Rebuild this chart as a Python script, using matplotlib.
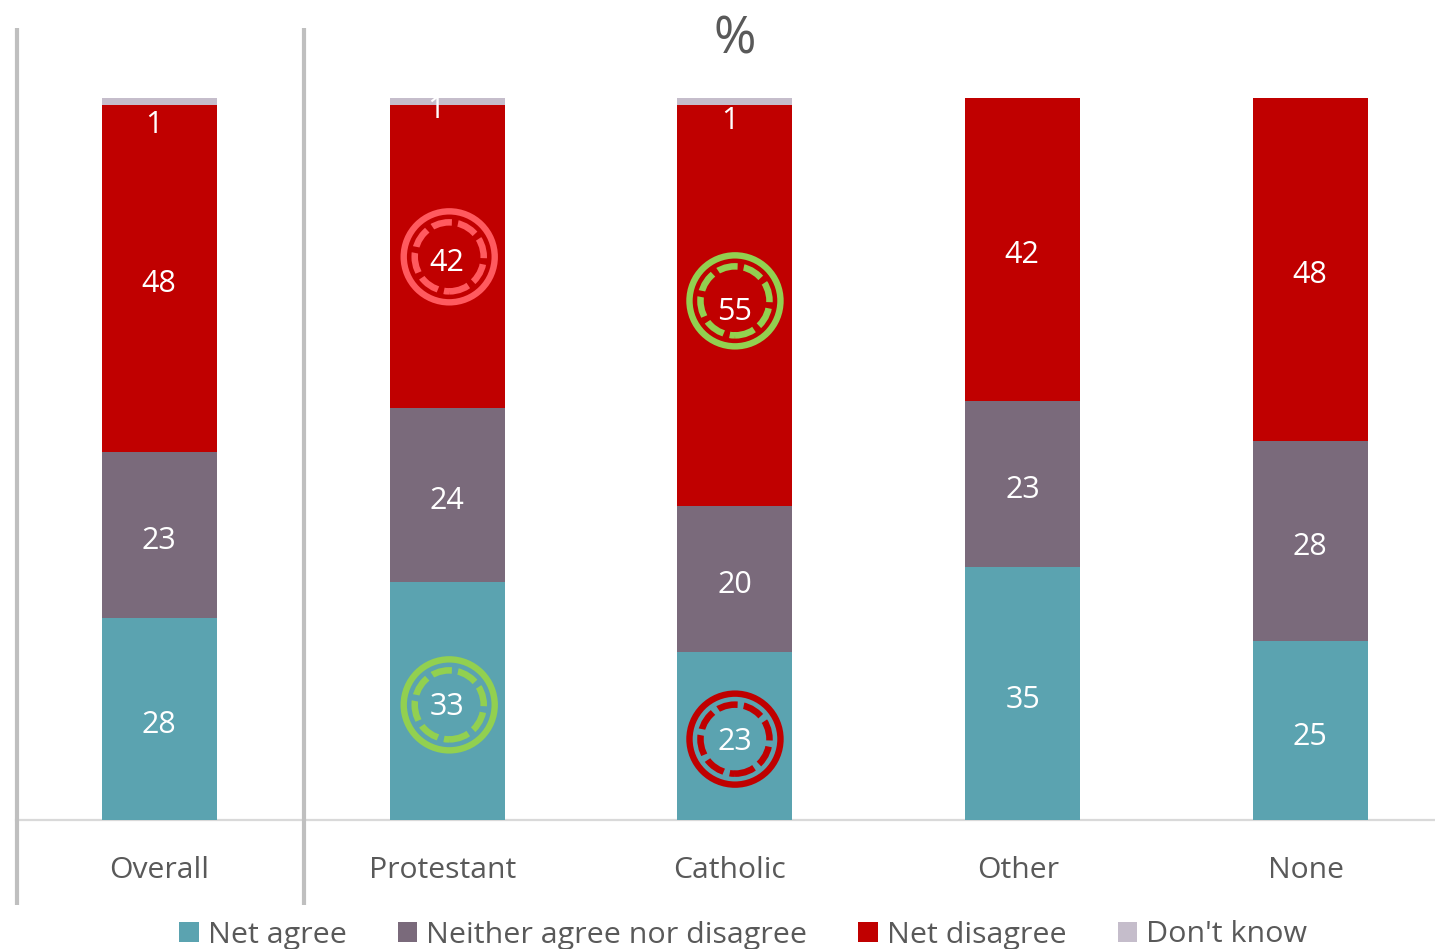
import matplotlib
matplotlib.use("Agg")
import matplotlib.pyplot as plt
import numpy as np
from matplotlib.patches import Patch

plt.rcParams['font.family'] = ['Open Sans', 'DejaVu Sans']

categories = ["Overall", "Protestant", "Catholic", "Other", "None"]
series_names = ["Net agree", "Neither agree nor disagree", "Net disagree", "Don't know"]
net_agree = [28, 33, 23, 35, 25]
neither = [23, 24, 20, 23, 28]
net_disagree = [48, 42, 55, 42, 48]
dont_know = [1, 1, 1, 0, 0]

colors = ["#5BA3B0", "#7A6A7B", "#C00000", "#C5BDCB"]
TEXT = "#595959"
W, H = 1435, 949
fig = plt.figure(figsize=(W/100, H/100), dpi=100)
step = 287.75
left, base, top = 15.6, 820, 98
ax = fig.add_axes([left/W, 1-base/H, (W-left)/W, (base-top)/H])
ax.set_xlim(-0.5, (W-left)/step-0.5)
ax.set_ylim(0, 1)
ax.axis("off")

vals = np.array([net_agree, neither, net_disagree, dont_know], float)
totals = vals.sum(axis=0)
shares = vals/totals
bottoms = np.zeros(5)
px = 1/(base-top)   # one pixel in axis data units
# per-label pixel offsets (dx, dy downward) from segment centre
offs = {
 0: [(-1,3),(0,3),(0,2),(0,3),(-1,3)],
 1: [(-1,3),(0,2),(0,2),(0,2),(-1,2)],
 2: [(-1,2),(0,3),(0,3),(-1,2),(-1,2)],
 3: [(-6,20),(-11,5),(-5,16),(0,0),(0,0)],
}
for s in range(4):
    ax.bar(range(5), shares[s], bottom=bottoms, width=115/step, color=colors[s], linewidth=0, zorder=2)
    for i in range(5):
        if vals[s, i] == 0:
            continue
        dx, dy = offs[s][i]
        ax.annotate(f"{int(vals[s,i])}", (i, bottoms[i]+shares[s,i]/2), xytext=(dx*0.72, -dy*0.72),
                    textcoords="offset points", ha="center", va="center_baseline",
                    color="white", fontsize=22, zorder=5)
    bottoms += shares[s]

# highlight rings: (category, series, ring colour, dx, dy in px from segment centre)
rings = [(1, 2, "#FF5A5F", 2, 0), (1, 0, "#92D050", 2, 4), (2, 2, "#92D050", 0, -5), (2, 0, "#C00000", 0, 3)]
cum = np.vstack([np.zeros(5), np.cumsum(shares, axis=0)])
for i, s, c, dx, dy in rings:
    y = (cum[s, i]+cum[s+1, i])/2 - dy*px
    x = i + dx/step
    ax.scatter([x], [y], s=(91*0.72)**2, facecolors="none", edgecolors=c, linewidths=4.6, zorder=4)
    ax.scatter([x], [y], s=(69*0.72)**2, facecolors="none", edgecolors=c, linewidths=4.7,
               linestyle=(0, (3.1, 0.95)), zorder=4)

# axis line, separators
ax.plot([-0.5, 5], [0, 0], color="#D9D9D9", lw=1.6, zorder=1, clip_on=False)
for xv in (-0.5, 0.5):
    ax.plot([xv + 1/step]*2, [(base-905)*px, (base-28)*px], color="#BFBFBF", lw=3, clip_on=False,
            solid_capstyle="butt", zorder=1)

cat_dx = [0, -5, -5, -5, -4]
for i, c in enumerate(categories):
    ax.annotate(c, (i, 0), xytext=(cat_dx[i]*0.72, -50*0.72), textcoords="offset points",
                ha="center", va="center", color=TEXT, fontsize=21.7)

fig.text(735/W, 1-40/H, "%", ha="center", va="center", color=TEXT, fontsize=37)

handles = [Patch(facecolor=c, edgecolor="none") for c in colors]
fig.legend(handles, series_names, ncols=4, loc="center left", bbox_to_anchor=(179/W, 1-935/H),
           frameon=False, fontsize=21.9, labelcolor=TEXT, handlelength=0.65, handleheight=0.65,
           handletextpad=0.3, columnspacing=1.67, borderpad=0, borderaxespad=0)
fig.savefig("out.png", dpi=100)
